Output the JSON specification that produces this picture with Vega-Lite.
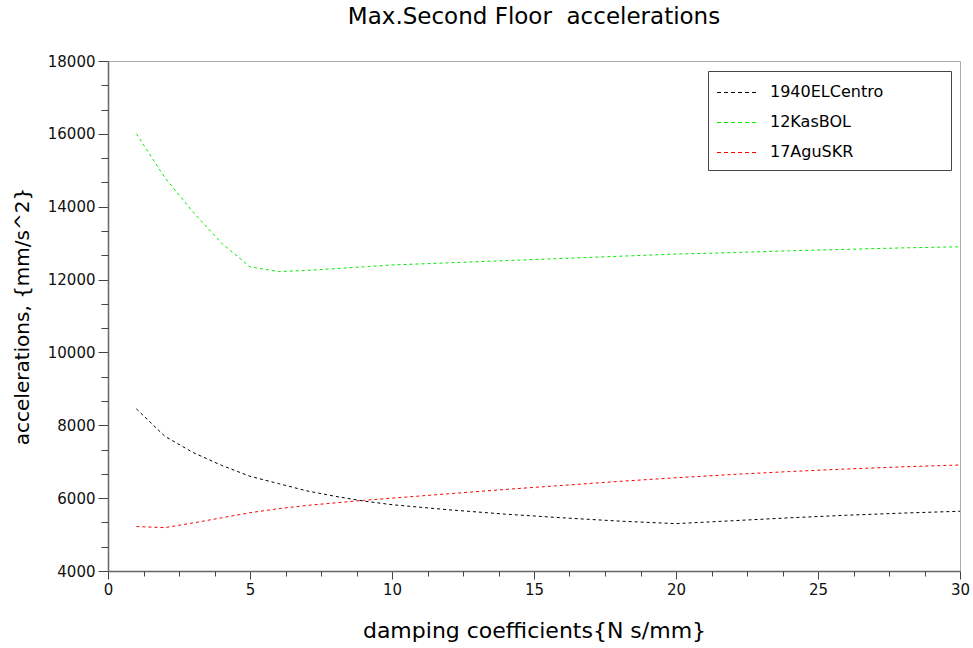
{
  "$schema": "https://vega.github.io/schema/vega-lite/v6.json",
  "width": 852,
  "height": 510,
  "autosize": "none",
  "padding": {"left": 108, "top": 61, "right": 13, "bottom": 77},
  "background": "white",
  "title": {
    "text": "Max.Second Floor\u00a0 accelerations",
    "font": "DejaVu Sans",
    "fontSize": 23,
    "fontWeight": "normal",
    "color": "#000000",
    "anchor": "middle",
    "offset": 25
  },
  "config": {
    "view": {"stroke": "#aaaaaa", "strokeWidth": 1},
    "axis": {
      "labelFont": "DejaVu Sans",
      "titleFont": "DejaVu Sans",
      "labelColor": "#111111",
      "titleColor": "#000000",
      "titleFontWeight": "normal",
      "domainColor": "#666666",
      "domainWidth": 1.5,
      "tickColor": "#444444",
      "grid": false
    }
  },
  "data": {
    "values": [
      {"c": 1, "a": 8450, "s": "1940ELCentro"},
      {"c": 2, "a": 7700, "s": "1940ELCentro"},
      {"c": 3, "a": 7250, "s": "1940ELCentro"},
      {"c": 4, "a": 6900, "s": "1940ELCentro"},
      {"c": 5, "a": 6600, "s": "1940ELCentro"},
      {"c": 6, "a": 6400, "s": "1940ELCentro"},
      {"c": 7, "a": 6200, "s": "1940ELCentro"},
      {"c": 8, "a": 6050, "s": "1940ELCentro"},
      {"c": 9, "a": 5920, "s": "1940ELCentro"},
      {"c": 10, "a": 5820, "s": "1940ELCentro"},
      {"c": 12, "a": 5680, "s": "1940ELCentro"},
      {"c": 14, "a": 5560, "s": "1940ELCentro"},
      {"c": 16, "a": 5460, "s": "1940ELCentro"},
      {"c": 18, "a": 5370, "s": "1940ELCentro"},
      {"c": 20, "a": 5300, "s": "1940ELCentro"},
      {"c": 22, "a": 5380, "s": "1940ELCentro"},
      {"c": 24, "a": 5460, "s": "1940ELCentro"},
      {"c": 26, "a": 5530, "s": "1940ELCentro"},
      {"c": 28, "a": 5590, "s": "1940ELCentro"},
      {"c": 30, "a": 5640, "s": "1940ELCentro"},
      {"c": 1, "a": 16000, "s": "12KasBOL"},
      {"c": 2, "a": 14800, "s": "12KasBOL"},
      {"c": 3, "a": 13850, "s": "12KasBOL"},
      {"c": 4, "a": 13000, "s": "12KasBOL"},
      {"c": 5, "a": 12350, "s": "12KasBOL"},
      {"c": 6, "a": 12220, "s": "12KasBOL"},
      {"c": 7, "a": 12250, "s": "12KasBOL"},
      {"c": 8, "a": 12300, "s": "12KasBOL"},
      {"c": 9, "a": 12350, "s": "12KasBOL"},
      {"c": 10, "a": 12400, "s": "12KasBOL"},
      {"c": 12, "a": 12460, "s": "12KasBOL"},
      {"c": 14, "a": 12520, "s": "12KasBOL"},
      {"c": 16, "a": 12580, "s": "12KasBOL"},
      {"c": 18, "a": 12640, "s": "12KasBOL"},
      {"c": 20, "a": 12700, "s": "12KasBOL"},
      {"c": 22, "a": 12740, "s": "12KasBOL"},
      {"c": 24, "a": 12790, "s": "12KasBOL"},
      {"c": 26, "a": 12830, "s": "12KasBOL"},
      {"c": 28, "a": 12870, "s": "12KasBOL"},
      {"c": 30, "a": 12900, "s": "12KasBOL"},
      {"c": 1, "a": 5220, "s": "17AguSKR"},
      {"c": 2, "a": 5190, "s": "17AguSKR"},
      {"c": 3, "a": 5320, "s": "17AguSKR"},
      {"c": 4, "a": 5460, "s": "17AguSKR"},
      {"c": 5, "a": 5600, "s": "17AguSKR"},
      {"c": 6, "a": 5710, "s": "17AguSKR"},
      {"c": 7, "a": 5800, "s": "17AguSKR"},
      {"c": 8, "a": 5870, "s": "17AguSKR"},
      {"c": 9, "a": 5940, "s": "17AguSKR"},
      {"c": 10, "a": 6000, "s": "17AguSKR"},
      {"c": 12, "a": 6120, "s": "17AguSKR"},
      {"c": 14, "a": 6240, "s": "17AguSKR"},
      {"c": 16, "a": 6350, "s": "17AguSKR"},
      {"c": 18, "a": 6460, "s": "17AguSKR"},
      {"c": 20, "a": 6560, "s": "17AguSKR"},
      {"c": 22, "a": 6650, "s": "17AguSKR"},
      {"c": 24, "a": 6730, "s": "17AguSKR"},
      {"c": 26, "a": 6800, "s": "17AguSKR"},
      {"c": 28, "a": 6860, "s": "17AguSKR"},
      {"c": 30, "a": 6910, "s": "17AguSKR"}
    ]
  },
  "layer": [
    {
      "mark": {"type": "line", "strokeWidth": 1, "strokeDash": [3, 3]},
      "encoding": {
        "x": {
          "field": "c", "type": "quantitative",
          "scale": {"domain": [0, 30], "nice": false, "zero": false},
          "axis": {
            "orient": "bottom",
            "title": "damping coefficients{N s/mm}",
            "titleFontSize": 22,
            "titlePadding": 23,
            "values": [0, 5, 10, 15, 20, 25, 30],
            "labelFontSize": 15,
            "labelPadding": 3,
            "tickSize": 8,
            "labelFlush": false
          }
        },
        "y": {
          "field": "a", "type": "quantitative",
          "scale": {"domain": [4000, 18000], "nice": false, "zero": false},
          "axis": {
            "orient": "left",
            "title": "accelerations, {mm/s^2}",
            "titleFontSize": 20,
            "titlePadding": 15,
            "values": [4000, 6000, 8000, 10000, 12000, 14000, 16000, 18000],
            "format": "d",
            "labelFontSize": 15,
            "labelPadding": 3,
            "tickSize": 10,
            "labelFlush": false
          }
        },
        "color": {
          "field": "s", "type": "nominal",
          "scale": {"domain": ["1940ELCentro", "12KasBOL", "17AguSKR"], "range": ["#000000", "#00ee00", "#ff0000"]},
          "legend": {
            "title": null,
            "orient": "none",
            "legendX": 600,
            "legendY": 10,
            "direction": "vertical",
            "symbolType": "M-1.2,0.05H2.7M20.9,0.05H20.9",
            "symbolSize": 400,
            "symbolStrokeWidth": 1.2,
            "symbolDash": [4, 3],
            "symbolFillColor": "transparent",
            "labelFont": "DejaVu Sans",
            "labelFontSize": 16,
            "labelColor": "#000000",
            "labelOffset": 30,
            "rowPadding": 11,
            "padding": 10,
            "strokeColor": "#444444",
            "fillColor": "white",
            "labelLimit": 300,
            "encode": {
              "symbols": {
                "update": {
                  "stroke": {"scale": "color", "field": "value"},
                  "opacity": {"value": 1}
                }
              }
            }
          }
        }
      }
    },
    {
      "mark": {"type": "line", "opacity": 0},
      "encoding": {
        "x": {
          "field": "c", "type": "quantitative",
          "scale": {"domain": [0, 30], "nice": false, "zero": false},
          "axis": {
            "orient": "bottom",
            "title": null,
            "labels": false,
            "domain": false,
            "values": [1.25, 2.5, 3.75, 6.25, 7.5, 8.75, 11.25, 12.5, 13.75, 16.25, 17.5, 18.75, 21.25, 22.5, 23.75, 26.25, 27.5, 28.75],
            "tickSize": 5
          }
        },
        "y": {
          "field": "a", "type": "quantitative",
          "scale": {"domain": [4000, 18000], "nice": false, "zero": false},
          "axis": {
            "orient": "left",
            "title": null,
            "labels": false,
            "domain": false,
            "values": [4666.67, 5333.33, 6666.67, 7333.33, 8666.67, 9333.33, 10666.67, 11333.33, 12666.67, 13333.33, 14666.67, 15333.33, 16666.67, 17333.33],
            "tickSize": 7
          }
        }
      }
    }
  ],
  "resolve": {"axis": {"x": "independent", "y": "independent"}}
}
